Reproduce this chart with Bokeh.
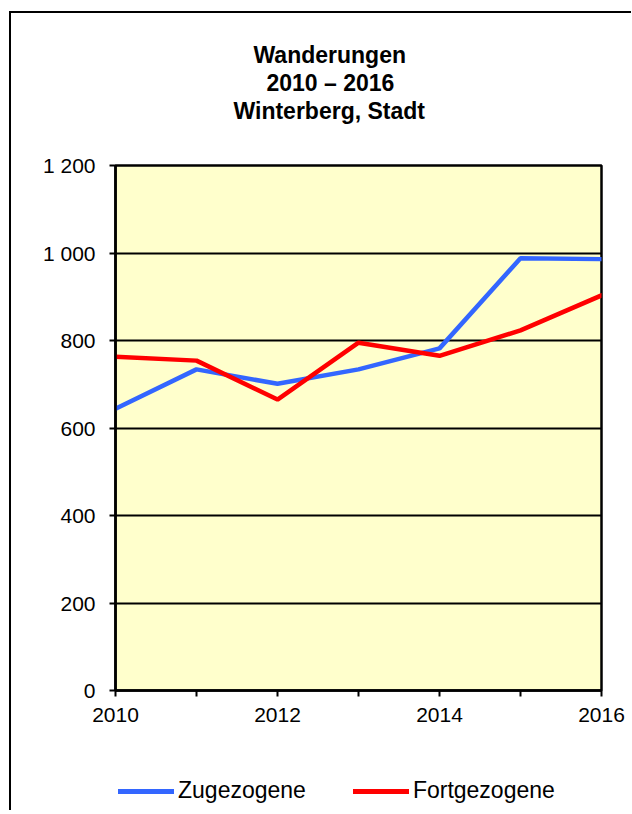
from bokeh.plotting import figure
from bokeh.layouts import column
from bokeh.models import (FixedTicker, Legend, LegendItem, Title, Range1d)
from bokeh.embed import file_html
from bokeh.resources import INLINE

# ---- data ----
years = [2010, 2011, 2012, 2013, 2014, 2015, 2016]
zugezogene = [644, 734, 701, 734, 782, 988, 986]
fortgezogene = [763, 754, 665, 795, 765, 823, 903]
series_names = ["Zugezogene", "Fortgezogene"]
series_colors = ["#3366FF", "#FF0000"]
title_lines = ["Wanderungen", "2010 – 2016", "Winterberg, Stadt"]
y_ticks = [0, 200, 400, 600, 800, 1000, 1200]
y_tick_labels = ["0", "200", "400", "600", "800", "1 000", "1 200"]
x_major_ticks = [2010, 2012, 2014, 2016]
x_minor_ticks = [2011, 2013, 2015]

FONT = "Liberation Sans"

p = figure(frame_width=486, frame_height=525,
           min_border_left=104, min_border_right=30,
           min_border_top=152, min_border_bottom=60,
           x_range=Range1d(2010, 2016), y_range=Range1d(0, 1200),
           output_backend="svg", toolbar_location=None)
p.background_fill_color = "#FFFFCC"
p.border_fill_color = "white"
p.outline_line_color = "black"
p.outline_line_width = 2.5

# axes
p.xaxis.ticker = FixedTicker(ticks=x_major_ticks, minor_ticks=x_minor_ticks)
p.yaxis.ticker = FixedTicker(ticks=y_ticks)
p.yaxis.major_label_overrides = {t: l for t, l in zip(y_ticks, y_tick_labels)}
for ax in (p.xaxis[0], p.yaxis[0]):
    ax.axis_line_color = "black"
    ax.axis_line_width = 2.5
    ax.major_tick_line_color = "black"
    ax.major_tick_line_width = 2
    ax.major_tick_out = 6
    ax.major_tick_in = 0
    ax.minor_tick_line_color = "black"
    ax.minor_tick_line_width = 2
    ax.minor_tick_out = 6
    ax.minor_tick_in = 0
    ax.major_label_text_font = FONT
    ax.major_label_text_font_size = "21px"
    ax.major_label_text_color = "black"
p.yaxis.minor_tick_line_color = None
p.xaxis.major_label_standoff = 11
p.yaxis.major_label_standoff = 14

p.xgrid.grid_line_color = None
p.ygrid.grid_line_color = "black"
p.ygrid.grid_line_width = 2

series = [zugezogene, fortgezogene]
for vals, c in zip(series, series_colors):
    p.line(years, vals, line_color=c, line_width=4.5, line_cap="round")

# spacer between frame and title block
p.add_layout(Title(text=" ", text_font_size="1px", standoff=39), "above")
# title (three lines), added from the frame outward
title_offsets = [138, 151, 118]
for txt, off in zip(reversed(title_lines), reversed(title_offsets)):
    p.add_layout(Title(text=txt, align="left", offset=off, standoff=0,
                       text_font=FONT, text_font_size="23px",
                       text_font_style="bold", text_color="black"), "above")

# legend strip below the chart (its frame is aligned with the chart frame)
pl = figure(width=620, height=60, min_border=0,
            x_range=Range1d(0, 1), y_range=Range1d(0, 1),
            output_backend="svg", toolbar_location=None)
pl.axis.visible = False
pl.grid.visible = False
pl.outline_line_color = None
pl.border_fill_color = "white"
pl.background_fill_color = "white"
# proxy renderers (same series, outside this strip's ranges) for the legend glyphs
lr = [pl.line(years, vals, line_color=c, line_width=5, line_cap="round")
      for vals, c in zip(series, series_colors)]
legend = Legend(items=[LegendItem(label=n, renderers=[r]) for n, r in zip(series_names, lr)],
                orientation="horizontal", location=(3, 6),
                glyph_width=56, glyph_height=26, label_height=26,
                label_standoff=4, spacing=47, padding=0, margin=0,
                border_line_color=None, background_fill_alpha=0,
                label_text_font=FONT, label_text_font_size="23px",
                label_text_color="black")
pl.add_layout(legend, "center")

layout = column(p, pl, spacing=0)
layout.styles = {"border-left": "2px solid black", "border-top": "2px solid black",
                 "margin-left": "9px", "margin-top": "11px"}

open("out.html", "w").write(file_html(layout, INLINE))
